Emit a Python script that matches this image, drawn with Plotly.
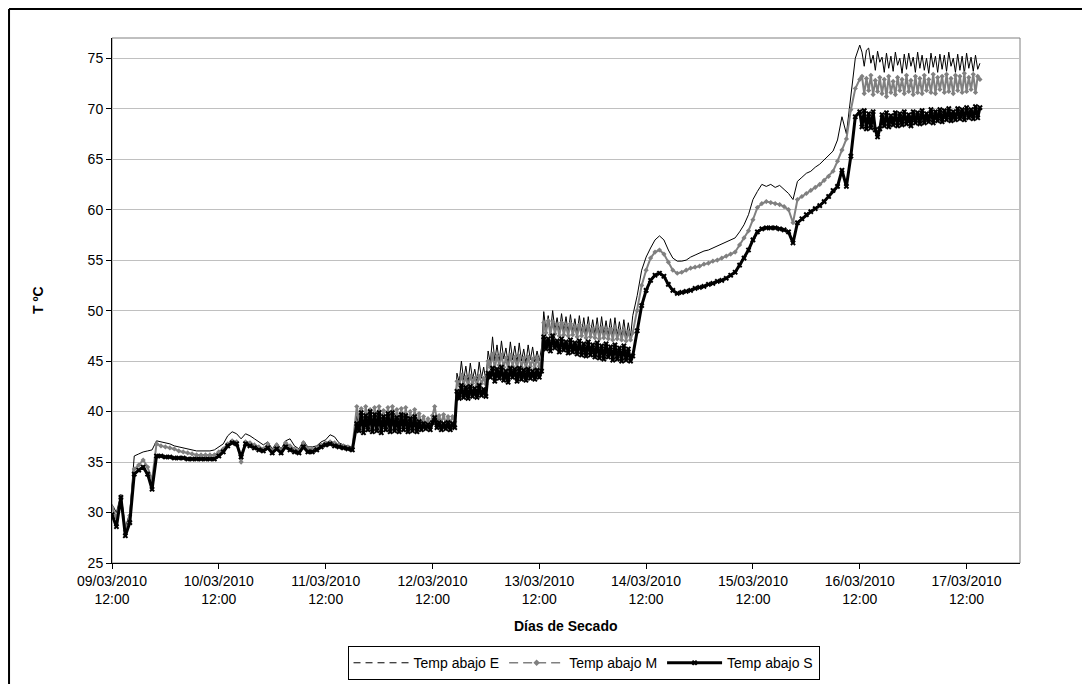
import plotly.graph_objects as go
import pandas as pd

# Sampling grid: hourly where the curves are smooth, every 30 min where they oscillate
SEGMENTS = [
    ("2010-03-09 12:00", 55, "h"),       # 09/03 12:00 - 11/03 18:00
    ("2010-03-11 19:00", 124, "30min"),  # 11/03 19:00 - 14/03 08:30
    ("2010-03-14 09:00", 51, "h"),       # 14/03 09:00 - 16/03 11:00
    ("2010-03-16 12:00", 55, "30min"),   # 16/03 12:00 - 17/03 15:00
]

temp_E = [
    # hourly 09/03 12:00 ->
    30.8, 30.0, 31.8, 28.5, 30.0, 35.6, 35.8, 36.0, 36.1, 36.2,
    37.1, 37.0, 36.9, 36.8, 36.6, 36.5, 36.4, 36.3, 36.2, 36.1,
    36.1, 36.1, 36.1, 36.2, 36.5, 36.8, 37.6, 38.0, 37.8, 37.3,
    37.8, 37.6, 37.3, 37.0, 36.7, 37.0, 36.3, 36.9, 36.3, 37.1,
    37.3, 36.6, 36.3, 37.1, 36.5, 36.5, 36.6, 37.0, 37.2, 37.7,
    37.5, 36.9, 36.7, 36.6, 36.5,
    # 30 min 11/03 19:00 ->
    39.6, 38.4, 39.9, 38.6, 40.1, 38.5, 39.7, 38.3, 39.9, 38.7,
    40.0, 38.4, 39.6, 38.5, 39.8, 38.6, 40.0, 38.5, 39.5, 38.4,
    39.7, 38.6, 39.9, 38.5, 39.4, 38.6, 39.6, 38.4, 39.2, 38.5,
    39.0, 38.6, 38.9, 38.4, 39.3, 40.4, 38.9, 39.4, 38.7, 39.5,
    38.6, 39.3, 38.7, 39.4, 38.8,
    43.8, 42.9, 45.0, 43.1, 44.5, 42.9, 44.8, 43.2, 44.2, 43.0,
    44.9, 43.3, 44.4, 43.1, 46.0,
    44.8, 47.4, 45.0, 46.6, 44.9, 47.0, 45.2, 46.3, 44.8, 46.9,
    45.1, 46.5, 44.9, 46.8, 45.0, 46.2, 44.8, 46.6, 45.1, 46.4,
    44.9, 46.0, 45.0, 46.3,
    49.9, 48.0, 49.5, 47.8, 50.0, 48.1, 49.3, 47.9, 49.7, 48.0,
    49.4, 47.8, 49.6, 47.9, 49.2, 47.7, 49.5, 47.8, 49.3, 47.6,
    49.4, 47.7, 49.1, 47.6, 49.3, 47.5, 49.4, 47.6, 49.0, 47.5,
    49.2, 47.4, 49.3, 47.5, 48.9, 47.4, 49.1, 47.3, 48.8, 47.4,
    # hourly 14/03 09:00 ->
    49.5, 51.5, 54.0, 55.3, 56.2, 57.0, 57.4, 57.0, 56.0, 55.2,
    54.9, 54.9, 55.0, 55.3, 55.5, 55.7, 55.9, 56.0, 56.2, 56.4,
    56.6, 56.8, 57.0, 57.2, 57.8, 58.5, 59.5, 61.0, 61.8, 62.5,
    62.3, 62.5, 62.2, 62.4, 62.0, 61.6, 61.0, 62.8, 63.2, 63.6,
    63.8, 64.2, 64.5, 64.9, 65.3, 65.8, 66.9, 69.2, 67.5, 71.3,
    75.0,
    # 30 min 16/03 12:00 ->
    76.3, 75.6, 74.2, 75.8, 76.0, 74.5, 75.3, 73.8, 75.7, 74.6,
    75.1, 73.6, 75.5, 74.0, 75.2, 73.7, 75.6, 74.3, 75.0, 73.5,
    75.4, 73.9, 75.5, 74.2, 75.1, 73.6, 75.6, 74.0, 75.3, 73.8,
    75.0, 73.5, 75.5, 74.1, 75.2, 73.6, 75.4, 73.9, 75.3, 73.7,
    75.6, 74.2, 75.0, 73.6, 75.4, 73.8, 75.2, 73.5, 75.5, 74.0,
    75.1, 73.7, 75.3, 73.9, 74.5,
]

temp_M = [
    30.5, 29.5, 31.5, 28.2, 29.7, 34.3, 34.7, 35.2, 34.5, 33.2,
    36.8, 36.6, 36.5, 36.4, 36.3, 36.1, 36.0, 35.9, 35.8, 35.7,
    35.7, 35.7, 35.7, 35.7, 36.0, 36.3, 36.8, 37.1, 37.0, 35.0,
    37.0, 36.9, 36.7, 36.5, 36.3, 36.8, 36.1, 36.7, 36.1, 36.9,
    36.6, 36.3, 36.1, 36.9, 36.3, 36.3, 36.4, 36.7, 36.9, 37.0,
    36.9, 36.7, 36.6, 36.5, 36.4,
    40.5, 38.9, 40.3, 38.7, 40.5, 38.8, 40.2, 38.6, 40.4, 38.9,
    40.5, 38.7, 40.1, 38.8, 40.4, 38.6, 40.5, 38.9, 40.2, 38.7,
    40.3, 38.8, 40.4, 38.6, 40.0, 38.8, 40.2, 38.7, 39.8, 38.8,
    39.5, 38.7, 39.3, 38.6, 39.6, 40.5, 39.1, 39.6, 38.9, 39.7,
    38.8, 39.5, 38.9, 39.5, 39.0,
    43.0, 42.6, 43.6, 42.7, 43.4, 42.5, 43.5, 42.8, 43.3, 42.6,
    43.5, 42.8, 43.3, 42.7, 45.0,
    44.4, 45.7, 44.3, 45.5, 44.6, 45.6, 44.4, 45.3, 44.2, 45.6,
    44.5, 45.4, 44.3, 45.5, 44.4, 45.3, 44.2, 45.4, 44.5, 45.2,
    44.3, 45.3, 44.5, 45.1,
    48.8, 47.8, 49.0, 47.6, 48.9, 47.7, 48.6, 47.5, 48.8, 47.6,
    48.5, 47.5, 48.7, 47.6, 48.4, 47.4, 48.6, 47.5, 48.3, 47.3,
    48.5, 47.4, 48.2, 47.3, 48.4, 47.2, 48.3, 47.3, 48.1, 47.2,
    48.2, 47.1, 48.3, 47.2, 48.0, 47.1, 48.1, 47.0, 47.9, 47.1,
    47.8, 50.0, 52.5, 54.0, 55.2, 55.8, 56.0, 55.6, 54.8, 54.0,
    53.7, 53.8, 54.0, 54.2, 54.3, 54.4, 54.6, 54.7, 54.9, 55.0,
    55.2, 55.4, 55.6, 55.8, 56.5, 57.2, 57.9, 59.0, 60.2, 60.6,
    60.8, 60.7, 60.6, 60.5, 60.3, 60.0, 58.7, 61.0, 61.3, 61.6,
    61.9, 62.2, 62.5, 62.9, 63.3, 63.8, 64.8, 65.9, 67.0, 69.9,
    72.0,
    72.9, 73.2, 71.5, 73.0, 71.8, 73.3, 71.4, 72.8, 71.7, 73.1,
    71.5, 72.9, 71.2, 73.2, 71.6, 72.7, 71.4, 73.1, 71.8, 72.9,
    71.5, 73.3, 71.7, 72.8, 71.4, 73.2, 71.6, 73.0, 71.5, 73.3,
    71.8, 72.9, 71.6, 73.4, 71.5, 73.1, 71.9, 73.2, 71.6, 73.4,
    71.7, 73.0, 71.5, 73.3, 71.8, 73.2, 71.6, 73.5, 71.7, 73.1,
    71.9, 73.4, 71.6, 73.2, 72.9,
]

temp_S = [
    29.8, 28.6, 31.5, 27.7, 29.0, 33.8, 34.2, 34.5, 33.8, 32.3,
    35.6, 35.6, 35.5, 35.5, 35.4, 35.4, 35.4, 35.3, 35.3, 35.3,
    35.3, 35.3, 35.3, 35.3, 35.6, 36.0, 36.6, 36.9, 36.8, 35.5,
    36.8, 36.6, 36.4, 36.2, 36.1, 36.4, 35.9, 36.3, 35.9, 36.5,
    36.2, 36.0, 35.9, 36.5, 36.0, 36.0, 36.2, 36.5, 36.7, 36.8,
    36.6, 36.5, 36.4, 36.3, 36.2,
    38.8, 38.1, 39.9, 37.9, 39.6, 38.2, 40.0, 38.0, 39.7, 38.1,
    39.9, 37.9, 39.5, 38.2, 39.8, 38.0, 39.9, 38.1, 39.4, 38.0,
    39.7, 38.2, 39.6, 38.0, 39.3, 38.1, 39.5, 38.0, 39.0, 38.2,
    38.8, 38.3, 38.7, 38.2, 38.9, 39.4, 38.4, 38.9, 38.2, 38.8,
    38.3, 38.9, 38.2, 38.8, 38.4,
    42.0, 41.3, 42.6, 41.4, 42.4, 41.3, 42.5, 41.5, 42.3, 41.4,
    42.6, 41.6, 42.2, 41.5, 43.8,
    43.4, 44.3, 43.0, 44.2, 43.3, 44.4, 43.1, 44.0, 42.9, 44.3,
    43.4, 44.2, 43.0, 44.3, 43.2, 44.1, 43.1, 44.2, 43.3, 44.0,
    43.2, 44.1, 43.4, 44.0,
    47.4, 46.2, 47.2, 46.0, 47.5, 46.3, 47.0, 45.9, 47.2, 46.1,
    46.9, 45.8, 47.1, 45.9, 46.8, 45.7, 47.0, 45.6, 46.7, 45.5,
    46.9, 45.6, 46.6, 45.4, 46.8, 45.3, 46.5, 45.2, 46.7, 45.4,
    46.4, 45.1, 46.6, 45.2, 46.3, 45.0, 46.5, 45.1, 46.2, 45.0,
    45.5, 48.0, 50.5, 52.0, 53.0, 53.5, 53.7, 53.4, 52.6, 52.0,
    51.7, 51.8, 51.9, 52.0, 52.2, 52.3, 52.4, 52.6, 52.7, 52.9,
    53.0, 53.2, 53.5, 53.8, 54.5, 55.2, 56.0, 57.0, 57.8, 58.1,
    58.2, 58.2, 58.2, 58.1, 58.0, 57.8, 56.7, 58.7, 59.1, 59.5,
    59.8, 60.1, 60.4, 60.8, 61.3, 61.9, 62.3, 63.9, 62.3, 65.3,
    69.2,
    69.7, 68.2, 69.8, 68.0, 69.5, 68.1, 69.7, 67.9, 67.2, 68.0,
    69.4, 68.3, 69.6, 68.2, 69.3, 68.4, 69.6, 68.3, 69.5, 68.4,
    69.7, 68.5, 69.4, 68.3, 69.7, 68.6, 69.6, 68.5, 69.8, 68.6,
    69.5, 68.7, 69.9, 68.6, 69.7, 68.8, 69.9, 68.7, 69.8, 68.9,
    70.0, 68.8, 69.7, 68.9, 70.0, 69.0, 69.9, 68.9, 70.1, 69.1,
    69.9, 69.0, 70.2, 69.1, 70.1,
]

series_names = ["Temp abajo E", "Temp abajo M", "Temp abajo S"]
y_ticks = [25, 30, 35, 40, 45, 50, 55, 60, 65, 70, 75]
x_tick_dates = pd.date_range("2010-03-09 12:00", "2010-03-17 12:00", freq="D")
x_tick_text = [d.strftime("%d/%m/%Y<br>%H:%M") for d in x_tick_dates]

times = []
for start, n, freq in SEGMENTS:
    times.extend(pd.date_range(start, periods=n, freq=freq))
assert len(times) == len(temp_E) == len(temp_M) == len(temp_S), (len(times), len(temp_E), len(temp_M), len(temp_S))

FONT = "Liberation Sans, Arial, sans-serif"

fig = go.Figure()

# legend samples (Excel-style)
fig.add_trace(go.Scatter(x=[None], y=[None], mode="lines", name=series_names[0],
                         line=dict(color="black", width=1, dash="7px,5px")))
fig.add_trace(go.Scatter(x=[None], y=[None], mode="lines+markers", name=series_names[1],
                         line=dict(color="#808080", width=1.5, dash="9px,5px"),
                         marker=dict(symbol="diamond", size=5, color="#808080")))

# data series
fig.add_trace(go.Scatter(x=times, y=temp_E, mode="lines", name=series_names[0],
                         showlegend=False, line=dict(color="black", width=1)))
fig.add_trace(go.Scatter(x=times, y=temp_M, mode="lines+markers", name=series_names[1],
                         showlegend=False, line=dict(color="#808080", width=2),
                         marker=dict(symbol="diamond", size=4, color="#808080")))
fig.add_trace(go.Scatter(x=times, y=temp_S, mode="lines+markers", name=series_names[2],
                         line=dict(color="black", width=3),
                         marker=dict(symbol="x", size=5, color="black")))

fig.update_layout(
    width=1090, height=684,
    margin=dict(l=104, r=78, t=30, b=129),
    paper_bgcolor="white", plot_bgcolor="white",
    font=dict(family=FONT, size=14, color="black"),
    showlegend=True,
    legend=dict(orientation="h", xref="container", yref="container",
                x=0.528, xanchor="center", y=0.067, yanchor="top",
                bordercolor="black", borderwidth=1, bgcolor="white",
                font=dict(family=FONT, size=14), itemwidth=55, tracegroupgap=0),
    xaxis=dict(type="date", range=["2010-03-09 12:00", "2010-03-18 00:00"],
               tickmode="array", tickvals=list(x_tick_dates), ticktext=x_tick_text,
               ticks="outside", ticklen=5, tickcolor="black",
               showline=True, linecolor="black", linewidth=1,
               showgrid=False, zeroline=False, tickfont=dict(size=14), automargin=False),
    yaxis=dict(range=[25, 77], tickmode="array", tickvals=y_ticks,
               ticks="outside", ticklen=5, tickcolor="black",
               showline=True, linecolor="black", linewidth=1,
               showgrid=True, gridcolor="#c0c0c0", gridwidth=1,
               zeroline=False, tickfont=dict(size=14), automargin=False),
    shapes=[
        dict(type="rect", xref="paper", yref="paper", x0=0, y0=0, x1=1, y1=1,
             line=dict(color="#808080", width=1), layer="below"),
        dict(type="line", xref="paper", yref="paper", x0=-0.1134, y0=1.0552, x1=1.2, y1=1.0552,
             line=dict(color="black", width=2)),
        dict(type="line", xref="paper", yref="paper", x0=-0.1134, y0=1.0552, x1=-0.1134, y1=-0.3,
             line=dict(color="black", width=2)),
    ],
    annotations=[
        dict(text="<b>Días de Secado</b>", xref="paper", yref="paper", x=0.5, y=-0.12,
             xanchor="center", yanchor="middle", showarrow=False, font=dict(size=14)),
        dict(text="<b>T ºC</b>", xref="paper", yref="paper", x=-0.0815, y=0.501,
             xanchor="center", yanchor="middle", textangle=-90, showarrow=False,
             font=dict(size=14)),
    ],
)

fig.write_html("out.html")
